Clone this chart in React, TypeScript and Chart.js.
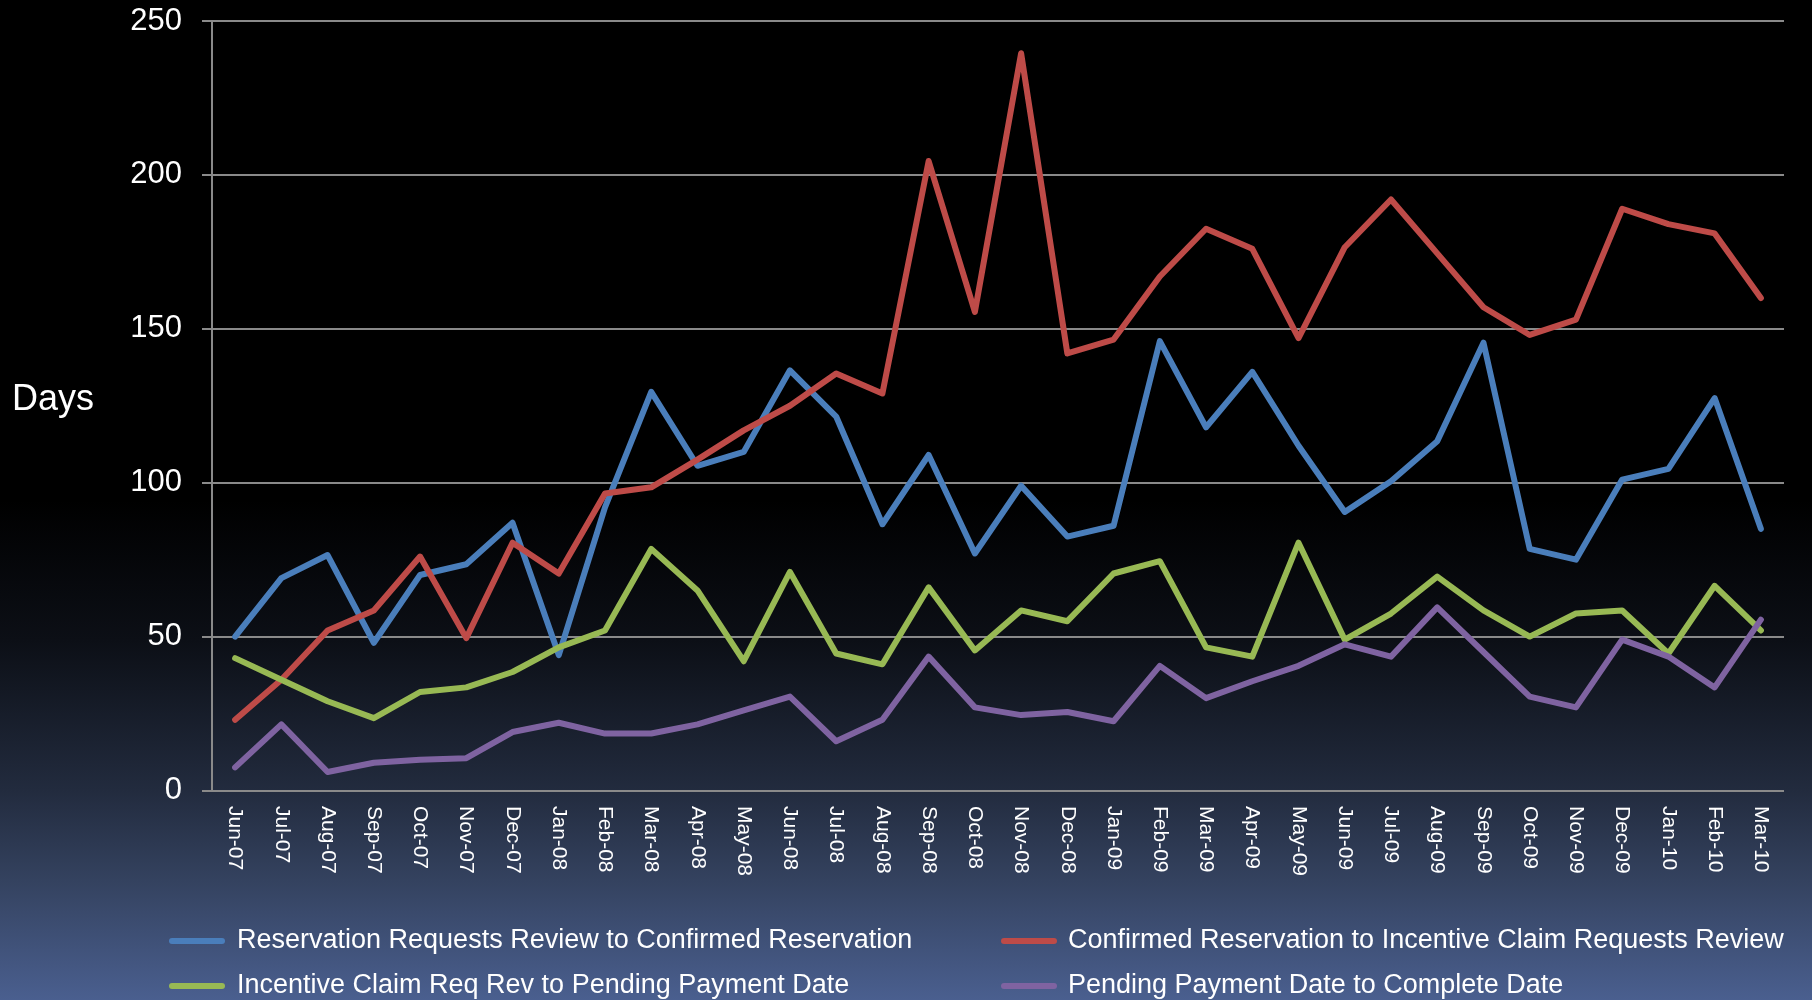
import React, { useEffect, useRef } from 'react';
import { Chart, registerables } from 'chart.js';

Chart.register(...registerables);

const categories = [
  'Jun-07', 'Jul-07', 'Aug-07', 'Sep-07', 'Oct-07', 'Nov-07', 'Dec-07', 'Jan-08', 'Feb-08', 'Mar-08',
  'Apr-08', 'May-08', 'Jun-08', 'Jul-08', 'Aug-08', 'Sep-08', 'Oct-08', 'Nov-08', 'Dec-08', 'Jan-09',
  'Feb-09', 'Mar-09', 'Apr-09', 'May-09', 'Jun-09', 'Jul-09', 'Aug-09', 'Sep-09', 'Oct-09', 'Nov-09',
  'Dec-09', 'Jan-10', 'Feb-10', 'Mar-10',
];

const seriesNames = [
  'Reservation Requests Review to Confirmed Reservation',
  'Confirmed Reservation to Incentive Claim Requests Review',
  'Incentive Claim Req Rev to Pending Payment Date',
  'Pending Payment Date to Complete Date',
];

const reservationToConfirmed = [
  50, 69, 76.5, 48, 70, 73.5, 87, 44, 92, 129.5,
  105.5, 110, 136.5, 121.5, 86.5, 109, 77, 99, 82.5, 86,
  146, 118, 136, 112, 90.5, 100.5, 113.5, 145.5, 78.5, 75,
  101, 104.5, 127.5, 85,
];

const confirmedToClaimReview = [
  23, 36, 52, 58.5, 76, 49.5, 80.5, 70.5, 96.5, 98.5,
  107.5, 117, 125, 135.5, 129, 204.5, 155.5, 239.5, 142, 146.5,
  167, 182.5, 176, 147, 176.5, 192, 174.5, 157, 148, 153,
  189, 184, 181, 160,
];

const claimToPending = [
  43, 36, 29, 23.5, 32, 33.5, 38.5, 46.5, 52, 78.5,
  65, 42, 71, 44.5, 41, 66, 45.5, 58.5, 55, 70.5,
  74.5, 46.5, 43.5, 80.5, 49, 57.5, 69.5, 58.5, 50, 57.5,
  58.5, 44.5, 66.5, 52,
];

const pendingToComplete = [
  7.5, 21.5, 6, 9, 10, 10.5, 19, 22, 18.5, 18.5,
  21.5, 26, 30.5, 16, 23, 43.5, 27, 24.5, 25.5, 22.5,
  40.5, 30, 35.5, 40.5, 47.5, 43.5, 59.5, 45, 30.5, 27,
  49, 43.5, 33.5, 55.5,
];

const seriesColors = ['#4A7EBB', '#BE4B48', '#98B954', '#7F63A1'];

const yAxisTitle = 'Days';
const yMin = 0;
const yMax = 250;
const yStep = 50;

const FONT = '"Liberation Sans", Arial, Helvetica, sans-serif';

export default function App() {
  const canvasRef = useRef<HTMLCanvasElement | null>(null);

  useEffect(() => {
    const canvas = canvasRef.current;
    if (!canvas) return;

    const overlay = {
      id: 'overlay',
      afterDraw(chart: any) {
        const ctx = chart.ctx as CanvasRenderingContext2D;
        const xs = chart.scales.x;
        ctx.save();
        ctx.fillStyle = '#ffffff';

        // rotated category labels (reading top to bottom)
        ctx.font = `21px ${FONT}`;
        ctx.textAlign = 'left';
        ctx.textBaseline = 'middle';
        categories.forEach((lab, i) => {
          const x = xs.getPixelForValue(i);
          ctx.save();
          ctx.translate(x, 806);
          ctx.rotate(Math.PI / 2);
          ctx.fillText(lab, 0, 0);
          ctx.restore();
        });

        // axis title
        ctx.font = `36px ${FONT}`;
        ctx.textAlign = 'left';
        ctx.textBaseline = 'middle';
        ctx.fillText(yAxisTitle, 12, 400);

        // legend
        const cols = [
          { lineX: 169, textX: 237 },
          { lineX: 1001, textX: 1068 },
        ];
        const rows = [941, 986];
        ctx.font = `27px ${FONT}`;
        seriesNames.forEach((name, i) => {
          const c = cols[i % 2];
          const y = rows[Math.floor(i / 2)];
          ctx.strokeStyle = seriesColors[i];
          ctx.lineWidth = 6;
          ctx.lineCap = 'round';
          ctx.beginPath();
          ctx.moveTo(c.lineX + 3, y);
          ctx.lineTo(c.lineX + 53, y);
          ctx.stroke();
          ctx.fillStyle = '#ffffff';
          ctx.fillText(name, c.textX, y);
        });
        ctx.restore();
      },
    };

    const dataSets = [reservationToConfirmed, confirmedToClaimReview, claimToPending, pendingToComplete];

    const chart = new Chart(canvas, {
      type: 'line',
      data: {
        labels: categories,
        datasets: dataSets.map((d, i) => ({
          label: seriesNames[i],
          data: d,
          borderColor: seriesColors[i],
          backgroundColor: seriesColors[i],
          borderWidth: 6,
          pointRadius: 0,
          pointHoverRadius: 0,
          tension: 0,
          fill: false,
          borderJoinStyle: 'round' as const,
          borderCapStyle: 'round' as const,
          order: 4 - i,
        })),
      },
      options: {
        animation: false,
        responsive: true,
        maintainAspectRatio: false,
        layout: { padding: { left: 0, top: 21, right: 28, bottom: 0 } },
        plugins: {
          legend: { display: false },
          tooltip: { enabled: false },
          title: { display: false },
        },
        scales: {
          x: {
            type: 'category',
            offset: true,
            ticks: { display: false },
            grid: { display: false },
            border: { display: false },
            afterFit(scale: any) {
              scale.height = 209.5;
              scale.paddingLeft = 0;
              scale.paddingRight = 0;
            },
          },
          y: {
            min: yMin,
            max: yMax,
            ticks: {
              stepSize: yStep,
              color: '#ffffff',
              font: { family: FONT, size: 31 },
              padding: 20,
            },
            grid: {
              color: '#8a8a8a',
              lineWidth: 2,
              tickLength: 10,
              drawTicks: true,
            },
            border: { display: true, color: '#8a8a8a', width: 2 },
            afterFit(scale: any) {
              scale.width = 212;
              scale.paddingTop = 0;
              scale.paddingBottom = 0;
            },
          },
        },
      },
      plugins: [overlay],
    });

    return () => {
      chart.destroy();
    };
  }, []);

  return (
    <div
      style={{
        position: 'fixed',
        left: 0,
        top: 0,
        width: '1812px',
        height: '1000px',
        background:
          'linear-gradient(to bottom, #000000 0%, #000000 50%, #0c0f16 64%, #222b3e 79%, #34425f 88%, #4a5f8f 100%)',
      }}
    >
      <canvas ref={canvasRef} />
    </div>
  );
}
